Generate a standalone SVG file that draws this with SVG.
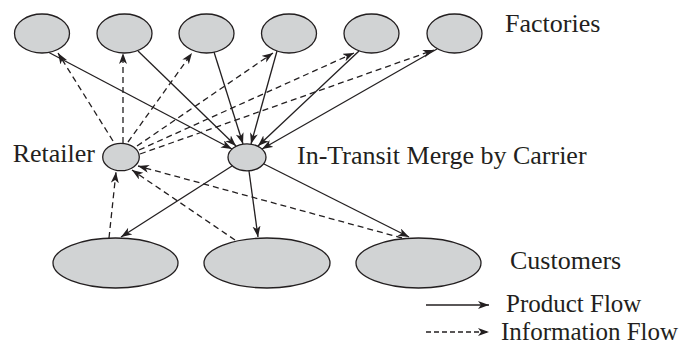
<svg xmlns="http://www.w3.org/2000/svg" width="688" height="344" viewBox="0 0 688 344">
<style>
.node{fill:#d1d3d4;stroke:#231f20;stroke-width:1.3}
.lbl{font-family:"Liberation Serif","Times New Roman",serif;font-size:26px;fill:#231f20}
.leg{font-family:"Liberation Serif","Times New Roman",serif;font-size:25px;fill:#231f20}
.prod{stroke:#231f20;stroke-width:1.3;fill:none;marker-end:url(#ah)}
.info{stroke:#231f20;stroke-width:1.3;fill:none;stroke-dasharray:6 4;marker-end:url(#ah)}
</style>
<defs>
<marker id="ah" markerUnits="userSpaceOnUse" markerWidth="12" markerHeight="9" refX="11" refY="4" orient="auto">
<path d="M0,0 L11,4 L0,8 L3,4 z" fill="#231f20"/>
</marker>
</defs>
<rect width="688" height="344" fill="#fff"/>
<g id="connectors">
<line class="prod" x1="48" y1="52" x2="232" y2="149"/>
<line class="prod" x1="138" y1="51" x2="236" y2="146"/>
<line class="prod" x1="214" y1="52" x2="243" y2="144"/>
<line class="prod" x1="277" y1="51" x2="251" y2="144"/>
<line class="prod" x1="359" y1="51" x2="258" y2="146"/>
<line class="prod" x1="437" y1="49" x2="262" y2="149"/>
<line class="prod" x1="232" y1="166" x2="121" y2="237"/>
<line class="prod" x1="249" y1="171" x2="258" y2="237"/>
<line class="prod" x1="264" y1="164" x2="409" y2="237"/>
<line class="info" x1="113" y1="141" x2="58" y2="53"/>
<line class="info" x1="123" y1="143" x2="123" y2="53"/>
<line class="info" x1="128" y1="142" x2="192" y2="53"/>
<line class="info" x1="137" y1="146" x2="273" y2="53"/>
<line class="info" x1="139" y1="150" x2="354" y2="53"/>
<line class="info" x1="140" y1="154" x2="434" y2="50"/>
<line class="info" x1="109" y1="238" x2="116" y2="172"/>
<line class="info" x1="235" y1="240" x2="132" y2="170"/>
<line class="info" x1="402" y1="238" x2="138" y2="166"/>
</g>
<g id="factory1"><ellipse class="node" cx="42" cy="33.5" rx="27.5" ry="19.5"/></g>
<g id="factory2"><ellipse class="node" cx="124.5" cy="33.5" rx="27.5" ry="19.5"/></g>
<g id="factory3"><ellipse class="node" cx="206.5" cy="33.5" rx="27.5" ry="19.5"/></g>
<g id="factory4"><ellipse class="node" cx="289" cy="33.5" rx="27.5" ry="19.5"/></g>
<g id="factory5"><ellipse class="node" cx="371.5" cy="33.5" rx="27.5" ry="19.5"/></g>
<g id="factory6"><ellipse class="node" cx="454.5" cy="33.5" rx="27.5" ry="19.5"/></g>
<g id="retailer"><ellipse class="node" cx="121" cy="157" rx="18.3" ry="13.7"/></g>
<g id="merge"><ellipse class="node" cx="247" cy="157.3" rx="19" ry="13.5"/></g>
<g id="customer1"><ellipse class="node" cx="115.5" cy="263" rx="62.5" ry="25"/></g>
<g id="customer2"><ellipse class="node" cx="267" cy="263" rx="63" ry="25"/></g>
<g id="customer3"><ellipse class="node" cx="418.5" cy="263" rx="62.5" ry="25"/></g>
<g id="labels">
<text class="lbl" x="505" y="32">Factories</text>
<text class="lbl" x="12.7" y="162">Retailer</text>
<text class="lbl" x="297" y="164">In-Transit Merge by Carrier</text>
<text class="lbl" x="510" y="269">Customers</text>
</g>
<g id="legend">
<line class="prod" x1="426" y1="305" x2="489" y2="305"/>
<line stroke="#231f20" stroke-width="1.3" stroke-dasharray="5 3" marker-end="url(#ah)" x1="426" y1="332" x2="489" y2="332"/>
<text class="leg" x="506" y="312">Product Flow</text>
<text class="leg" x="501" y="340">Information Flow</text>
</g>
</svg>
